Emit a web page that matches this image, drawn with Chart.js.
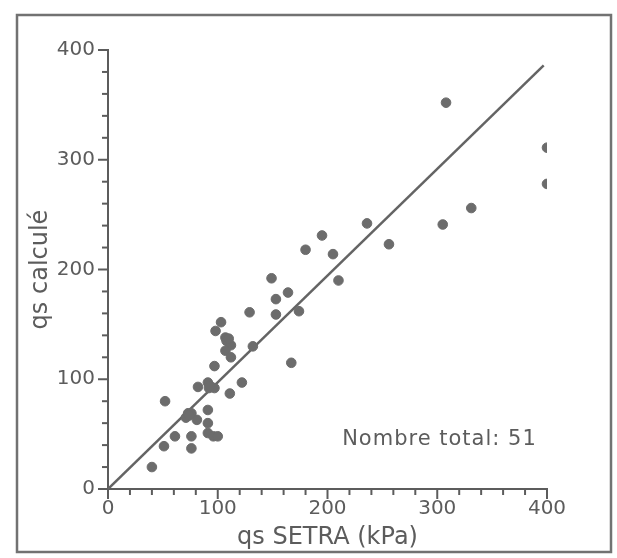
<!DOCTYPE html>
<html lang="fr">
<head>
    <meta charset="UTF-8">
    <title>qs calculé vs qs SETRA</title>
    <script src="https://cdn.jsdelivr.net/npm/chart.js"></script>
    <style>
        html, body { margin: 0; padding: 0; background: #fff; }
        #wrap { width: 617px; height: 558px; position: relative; }
    </style>
</head>
<body>
    <div id="wrap"><canvas id="graphique"></canvas></div>

    <script>
        // valeurs
        const qsSetra = [40, 51, 52, 61, 76, 76, 71, 73, 76, 81, 74, 91, 91, 91, 96, 100,
            82, 91, 92, 97, 93, 111, 122, 97, 98, 103, 107, 108, 112, 107, 112, 110,
            132, 129, 167, 153, 153, 164, 149, 174, 210, 180, 195, 205, 236, 256,
            305, 331, 308, 400, 400];
        const qsCalcule = [20, 39, 80, 48, 48, 37, 65, 69, 69, 63, 67, 72, 60, 51, 48, 48,
            93, 97, 92, 92, 94, 87, 97, 112, 144, 152, 138, 135, 131, 126, 120, 137,
            130, 161, 115, 173, 159, 179, 192, 162, 190, 218, 231, 214, 242, 223,
            241, 256, 352, 311, 278];
        const droiteX = [0, 397];
        const droiteY = [0, 386];
        const ticksMajeurs = [0, 100, 200, 300, 400];
        const annotation = 'Nombre total: 51';

        const gris = '#5c5c5c';
        const police = '"DejaVu Sans", sans-serif';

        const points = qsSetra.map((x, i) => ({ x: x, y: qsCalcule[i] }));
        const droite = droiteX.map((x, i) => ({ x: x, y: droiteY[i] }));

        const cadre = {
            id: 'cadre',
            beforeDraw(chart) {
                const ctx = chart.ctx;
                ctx.save();
                ctx.fillStyle = '#fff';
                ctx.fillRect(0, 0, chart.width, chart.height);
                ctx.strokeStyle = '#727272';
                ctx.lineWidth = 2.5;
                ctx.strokeRect(17, 15, 594, 537);
                ctx.restore();
            },
            afterDraw(chart) {
                const ctx = chart.ctx;
                const sx = chart.scales.x, sy = chart.scales.y;
                ctx.save();
                ctx.strokeStyle = gris;
                ctx.lineWidth = 2;
                // graduations tous les 20, plus longues aux centaines
                for (let v = 0; v <= 400; v += 20) {
                    const l = v % 100 === 0 ? 10 : 6;
                    const px = sx.getPixelForValue(v);
                    ctx.beginPath();
                    ctx.moveTo(px, sy.bottom);
                    ctx.lineTo(px, sy.bottom + l);
                    ctx.stroke();
                    const py = sy.getPixelForValue(v);
                    ctx.beginPath();
                    ctx.moveTo(sx.left, py);
                    ctx.lineTo(sx.left - l, py);
                    ctx.stroke();
                }
                ctx.fillStyle = gris;
                ctx.font = '21px ' + police;
                ctx.letterSpacing = '1px';
                ctx.textAlign = 'center';
                ctx.textBaseline = 'middle';
                ctx.fillText(annotation, sx.getPixelForValue(302), sy.getPixelForValue(45));
                ctx.restore();
            }
        };

        new Chart(document.getElementById('graphique'), {
            type: 'scatter',
            data: {
                datasets: [{
                    data: points,
                    backgroundColor: '#6c6c6c',
                    borderColor: '#6c6c6c',
                    pointRadius: 4.8,
                    pointHoverRadius: 4.8
                }, {
                    type: 'line',
                    data: droite,
                    borderColor: '#646464',
                    borderWidth: 2.5,
                    pointRadius: 0,
                    fill: false
                }]
            },
            options: {
                responsive: true,
                maintainAspectRatio: false,
                animation: false,
                events: [],
                layout: { padding: { left: 26, top: 50, right: 70, bottom: 6 } },
                plugins: { legend: { display: false }, tooltip: { enabled: false } },
                scales: {
                    x: {
                        type: 'linear',
                        min: 0,
                        max: 400,
                        grid: { display: false, drawTicks: false },
                        border: { display: true, color: gris, width: 2 },
                        ticks: {
                            stepSize: 100,
                            padding: 8,
                            color: gris,
                            font: { family: police, size: 20 },
                            callback: v => ticksMajeurs.includes(v) ? v : ''
                        },
                        title: {
                            display: true,
                            text: 'qs SETRA (kPa)',
                            color: gris,
                            font: { family: police, size: 24 },
                            padding: { top: 0, bottom: 0 }
                        },
                        afterFit(scale) { scale.height = 63; }
                    },
                    y: {
                        type: 'linear',
                        min: 0,
                        max: 400,
                        grid: { display: false, drawTicks: false },
                        border: { display: true, color: gris, width: 2 },
                        ticks: {
                            stepSize: 100,
                            padding: 13,
                            color: gris,
                            font: { family: police, size: 20 },
                            callback: v => ticksMajeurs.includes(v) ? v : ''
                        },
                        title: {
                            display: true,
                            text: 'qs calculé',
                            color: gris,
                            font: { family: police, size: 24 },
                            padding: { top: 0, bottom: 0 }
                        },
                        afterFit(scale) { scale.width = 82; }
                    }
                }
            },
            plugins: [cadre]
        });
    </script>
</body>
</html>
